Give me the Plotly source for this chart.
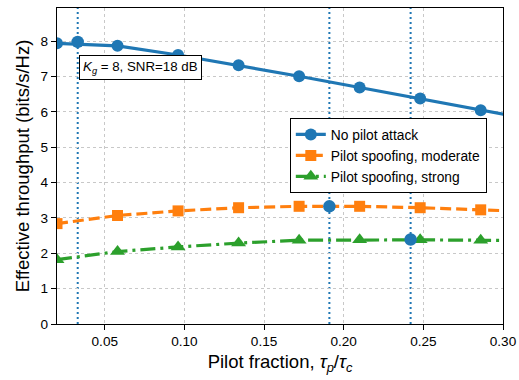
import plotly.graph_objects as go

# Data
tau = [0.02, 0.058, 0.096, 0.134, 0.172, 0.210, 0.248, 0.286, 0.324]
no_attack = [7.94, 7.87, 7.61, 7.32, 7.01, 6.69, 6.38, 6.05, 5.74]
spoof_moderate = [2.84, 3.07, 3.20, 3.29, 3.33, 3.33, 3.29, 3.23, 3.17]
spoof_strong = [1.82, 2.05, 2.18, 2.29, 2.37, 2.38, 2.38, 2.37, 2.35]
opt_x = [0.033, 0.191, 0.242]
opt_y = [7.98, 3.33, 2.39]

C0, C1, C2 = "#1f77b4", "#ff7f0e", "#2ca02c"
FONT = "Liberation Sans, Arial, sans-serif"

fig = go.Figure()
fig.add_trace(go.Scatter(x=tau, y=no_attack, mode="lines+markers", name="No pilot attack",
                         line=dict(color=C0, width=3.2), marker=dict(symbol="circle", size=12, color=C0)))
fig.add_trace(go.Scatter(x=tau, y=spoof_moderate, mode="lines+markers", name="Pilot spoofing, moderate",
                         line=dict(color=C1, width=3.2, dash="11px,5px"),
                         marker=dict(symbol="square", size=11, color=C1)))
fig.add_trace(go.Scatter(x=tau, y=spoof_strong, mode="lines+markers", name="Pilot spoofing, strong",
                         line=dict(color=C2, width=3.2, dash="15px,5px,3px,5px"),
                         marker=dict(symbol="triangle-up", size=13, color=C2)))
fig.add_trace(go.Scatter(x=opt_x, y=opt_y, mode="markers", showlegend=False,
                         marker=dict(symbol="circle", size=12.5, color=C0)))

for xv in opt_x:
    fig.add_shape(type="line", x0=xv, x1=xv, y0=0, y1=1, yref="paper", xref="x",
                  line=dict(color=C0, width=2, dash="2px,3px"), layer="below")

fig.add_annotation(x=0.0335, y=7.25, xref="x", yref="y", xanchor="left", yanchor="middle",
                   text="<i>K</i><sub><i>g</i></sub> = 8, SNR=18 dB", showarrow=False,
                   font=dict(family=FONT, size=13.3, color="black"),
                   bgcolor="white", bordercolor="black", borderwidth=1, borderpad=3)

axis_common = dict(showline=True, linecolor="black", linewidth=1.3, mirror=True,
                   ticks="outside", ticklen=5, tickwidth=1.2, tickcolor="black",
                   showgrid=True, gridcolor="#c8c8c8", griddash="dot", gridwidth=1,
                   zeroline=False, automargin=False,
                   tickfont=dict(family=FONT, size=13.6, color="black"))

fig.update_xaxes(range=[0.02, 0.30], tickvals=[0.05, 0.10, 0.15, 0.20, 0.25, 0.30],
                 ticktext=["0.05", "0.10", "0.15", "0.20", "0.25", "0.30"],
                 title=dict(text="Pilot fraction, <i>τ</i><sub><i>p</i></sub>/<i>τ</i><sub><i>c</i></sub>",
                            font=dict(family=FONT, size=18.5, color="black"), standoff=6),
                 **axis_common)
fig.update_yaxes(range=[0, 8.94], tickvals=[0, 1, 2, 3, 4, 5, 6, 7, 8],
                 title=dict(text="Effective throughput (bits/s/Hz)",
                            font=dict(family=FONT, size=18.5, color="black"), standoff=6),
                 **axis_common)

fig.update_layout(
    width=519, height=380,
    margin=dict(l=57, r=16, t=8, b=56),
    plot_bgcolor="white", paper_bgcolor="white",
    font=dict(family=FONT, color="black"),
    legend=dict(x=0.522, y=0.652, xanchor="left", yanchor="top",
                bgcolor="white", bordercolor="black", borderwidth=1,
                font=dict(family=FONT, size=13.8, color="black"),
                tracegroupgap=0, itemsizing="trace"),
)

fig.write_html("out.html")
